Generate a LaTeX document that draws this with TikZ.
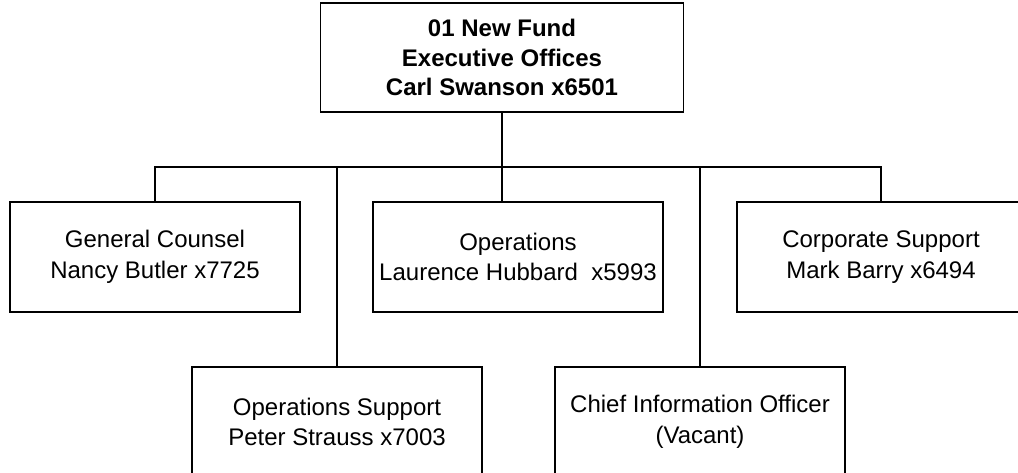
\documentclass[tikz,border=0pt]{standalone}
\usepackage{fontspec}
\setmainfont{Liberation Sans}
\usepackage{tikz}
\usetikzlibrary{
    shapes,
    positioning,
}
\tikzset{
    unit/.style = {
        rectangle,
        minimum width=290pt,
        minimum height=110pt,
        inner sep=2pt,
        align=center,
        line width=1.3pt,
        draw,
        font=\fontsize{24}{30.5}\selectfont,
    },
    head/.style = {
        unit,
        minimum width=363pt,
        minimum height=109pt,
        font=\fontsize{24}{29.5}\selectfont\bfseries,
    },
}
\tikzstyle{link} = [
    line width=1.3pt,
]

\begin{document}
\begin{tikzpicture}[x=1pt,y=1pt]
        \useasboundingbox (0,0) rectangle (1018,-473);

        \node [head] (fund) at (502,-57.5)
        {01 New Fund\\Executive Offices\\Carl Swanson x6501};

        \node [unit] (counsel) at (155,-257)
        {General Counsel\\Nancy Butler x7725};

        \node [unit] (operations) at (518,-257)
        {Operations\\Laurence Hubbard\ \ x5993};

        \node [unit, minimum width=288pt] (corporate) at (881,-257)
        {Corporate Support\\Mark Barry x6494};

        \node [unit] (opsupport) at (337,-422)
        {Operations Support\\Peter Strauss x7003};

        \node [unit] (cio) at (700,-422)
        {Chief Information Officer\\(Vacant)};

        \coordinate (bar) at (0,-167);

        \draw [link] (fund.south) -- (fund.south |- operations.north);
        \draw [link] (counsel.north) -- (counsel.north |- bar)
            -- (corporate.north |- bar) -- (corporate.north);
        \draw [link] (opsupport.north) -- (opsupport.north |- bar);
        \draw [link] (cio.north) -- (cio.north |- bar);

    \end{tikzpicture}
\end{document}
